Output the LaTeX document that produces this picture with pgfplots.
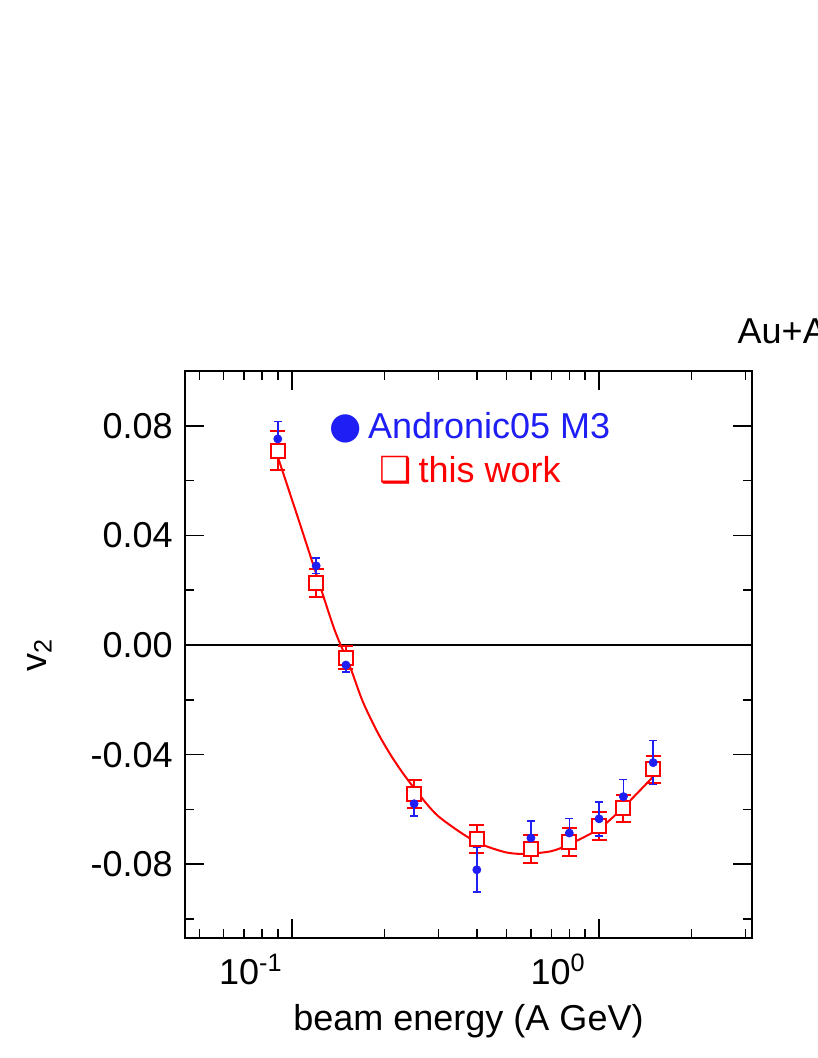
\documentclass[border=0pt]{standalone}
\usepackage{fontspec}
\setmainfont{Liberation Sans}
\newfontfamily\symfont{DejaVu Sans}
\usepackage{pgfplots}
\usepackage{pgfplotstable}
\pgfplotsset{compat=1.18}
\definecolor{dblue}{RGB}{30,30,245}
\definecolor{dred}{RGB}{255,0,0}

% Andronic05 M3
\pgfplotstableread{
x     y       e
0.09  0.0752  0.0063
0.12  0.0289  0.0028
0.15  -0.0073 0.0026
0.25  -0.0579 0.0044
0.4   -0.0820 0.0081
0.6   -0.0704 0.0062
0.8   -0.0686 0.0053
1.0   -0.0634 0.0062
1.2   -0.0553 0.0062
1.5   -0.0429 0.0080
}\andronic

% this work
\pgfplotstableread{
x     y       e
0.09  0.0709  0.0072
0.12  0.0227  0.0050
0.15  -0.0047 0.0042
0.25  -0.0544 0.0050
0.4   -0.0707 0.0050
0.6   -0.0744 0.0050
0.8   -0.0718 0.0050
1.0   -0.0660 0.0050
1.2   -0.0596 0.0050
1.5   -0.0454 0.0050
}\thiswork

% fit curve
\pgfplotstableread{
x      y
0.09   0.0687
0.105  0.0460
0.12   0.0260
0.1378 0.0055
0.155  -0.0082
0.17   -0.0205
0.19   -0.0318
0.21   -0.0402
0.23   -0.0468
0.25   -0.0522
0.275  -0.0580
0.30   -0.0625
0.35   -0.0680
0.40   -0.0720
0.45   -0.0742
0.50   -0.0757
0.55   -0.0762
0.60   -0.0761
0.70   -0.0752
0.80   -0.0727
1.0    -0.0670
1.2    -0.0592
1.5    -0.0480
}\fitcurve

\begin{document}
\fontsize{18pt}{22pt}\selectfont
\begin{tikzpicture}
\begin{axis}[
  scale only axis,
  width=283.5pt, height=283.8pt,
  xmode=log,
  xmin=0.0449, xmax=3.146,
  ymin=-0.107, ymax=0.1001,
  xtick={0.1,1},
  xticklabels={10\textsuperscript{-1},10\textsuperscript{0}},
  minor xtick={0.05,0.06,0.07,0.08,0.09,0.2,0.3,0.4,0.5,0.6,0.7,0.8,0.9,2,3},
  ytick={-0.08,-0.04,0,0.04,0.08},
  yticklabels={-0.08,-0.04,0.00,0.04,0.08},
  minor ytick={-0.1,-0.06,-0.02,0.02,0.06},
  scaled y ticks=false,
  major tick length=9.5pt,
  minor tick length=4.75pt,
  every tick/.style={black, line width=0.8pt},
  axis line style={line width=1pt},
  xticklabel style={anchor=base, yshift=-22.85pt, xshift=-20.5pt},
  xlabel={beam energy (A GeV)},
  ylabel={v\textsubscript{2}},
  xlabel style={at={(axis description cs:0.5,-0.1616)}, anchor=base},
  ylabel style={at={(axis description cs:-0.2451,0.5)}, anchor=base},
]
\addplot[black, line width=0.8pt, forget plot] coordinates {(0.0449,0) (3.146,0)};

\addplot[only marks, mark=square*, mark size=3.5pt, dred,
  mark options={fill=white, draw=dred, line width=1pt},
  error bars/.cd, y dir=both, y explicit,
  error bar style={dred, line width=1pt},
  error mark options={dred, rotate=90, mark size=3.75pt, line width=1pt}]
  table[x=x, y=y, y error=e] {\thiswork};

\addplot[dred, line width=1pt, smooth, tension=0.5, mark=none] table[x=x, y=y] {\fitcurve};

\addplot[only marks, mark=*, mark size=2pt, dblue,
  mark options={fill=dblue, draw=dblue},
  error bars/.cd, y dir=both, y explicit,
  error bar style={dblue, line width=0.8pt},
  error mark options={dblue, rotate=90, mark size=2pt, line width=0.8pt}]
  table[x=x, y=y, y error=e] {\andronic};

\node[anchor=base, text=dblue, inner sep=0] at (rel axis cs:0.5026,0.8797)
  {{\symfont\fontsize{18.5pt}{18.5pt}\selectfont ●}\hspace{3pt}Andronic05 M3};
\node[anchor=base, text=dred, inner sep=0] at (rel axis cs:0.5026,0.8022)
  {{\symfont ❑}\hspace{3.5pt}this work};

\coordinate (sw) at (rel axis cs:0,0);
\coordinate (ne) at (rel axis cs:1,1);
\end{axis}
\node[anchor=base west, inner sep=0] at ([xshift=-7.35pt, yshift=13.7pt]ne) {Au+Au};
\pgfresetboundingbox
\path[use as bounding box] ([xshift=-92.5pt, yshift=-59.85pt]sw) rectangle ([xshift=32.5pt, yshift=185.35pt]ne);
\end{tikzpicture}
\end{document}
